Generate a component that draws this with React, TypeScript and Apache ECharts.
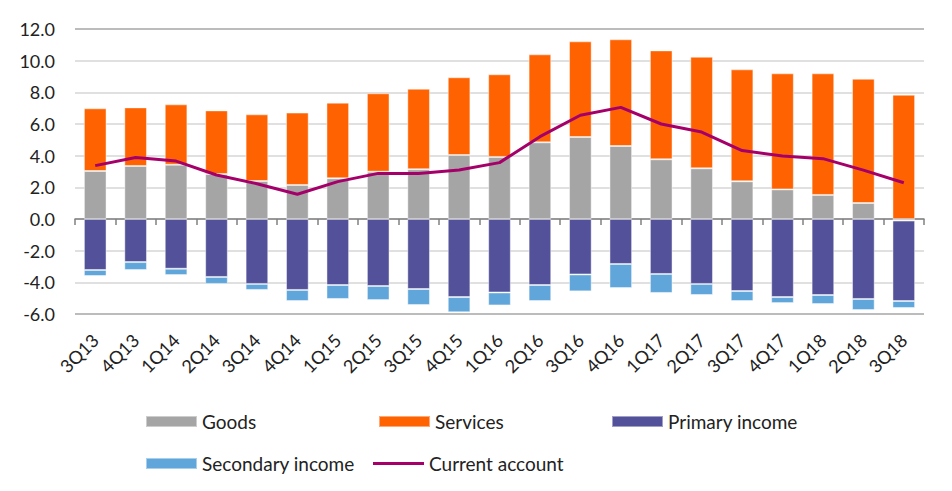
import { useEffect, useRef } from "react";
import * as echarts from "echarts";

const quarters = [
  "3Q13", "4Q13", "1Q14", "2Q14", "3Q14", "4Q14", "1Q15", "2Q15", "3Q15", "4Q15",
  "1Q16", "2Q16", "3Q16", "4Q16", "1Q17", "2Q17", "3Q17", "4Q17", "1Q18", "2Q18", "3Q18",
];

const goods = [
  3.03, 3.35, 3.43, 2.84, 2.4, 2.15, 2.57, 2.99, 3.14, 4.04,
  3.92, 4.84, 5.18, 4.61, 3.77, 3.2, 2.38, 1.87, 1.52, 1.01, -0.1,
];
const services = [
  3.96, 3.7, 3.81, 4.02, 4.21, 4.57, 4.78, 4.95, 5.09, 4.91,
  5.22, 5.56, 6.04, 6.74, 6.88, 7.05, 7.07, 7.33, 7.68, 7.85, 7.85,
];
const primaryIncome = [
  -3.22, -2.72, -3.14, -3.66, -4.1, -4.48, -4.17, -4.23, -4.42, -4.93,
  -4.64, -4.17, -3.5, -2.84, -3.47, -4.1, -4.55, -4.93, -4.8, -5.05, -5.08,
];
const secondaryIncome = [
  -0.38, -0.5, -0.4, -0.44, -0.38, -0.7, -0.88, -0.89, -1.01, -0.96,
  -0.82, -1.01, -1.07, -1.52, -1.2, -0.7, -0.63, -0.38, -0.57, -0.7, -0.44,
];
const currentAccount = [
  3.37, 3.89, 3.66, 2.78, 2.23, 1.56, 2.36, 2.88, 2.88, 3.09,
  3.56, 5.2, 6.55, 7.05, 6.0, 5.49, 4.32, 3.98, 3.81, 3.09, 2.29,
];

const yMin = -6;
const yMax = 12;
const yStep = 2;

const FONT = "Lato, 'Open Sans', sans-serif";
const GRAY = "#A5A5A5";
const ORANGE = "#FF6200";
const PURPLE = "#525199";
const BLUE = "#60A6DB";
const MAGENTA = "#A5006A";

// one legend per item so the columns line up like the original
const legendCells = [
  { name: "Goods", left: 140, top: 407, iconH: 11 },
  { name: "Services", left: 373, top: 407, iconH: 11 },
  { name: "Primary income", left: 606, top: 407, iconH: 11 },
  { name: "Secondary income", left: 140, top: 449, iconH: 11 },
  { name: "Current account", left: 368, top: 449, iconH: 3 },
];

export default function App() {
  const chartRef = useRef<HTMLDivElement>(null);

  useEffect(() => {
    document.body.style.margin = "0";
    if (!chartRef.current) return;
    const chart = echarts.init(chartRef.current, null, { renderer: "svg" });

    const barStyle = (color: string) => ({
      color,
      borderColor: "rgba(255,255,255,0.45)",
      borderWidth: 1,
    });

    const option: echarts.EChartsOption = {
      animation: false,
      textStyle: { fontFamily: FONT },
      grid: { left: 75, right: 28, top: 29, bottom: 177, containLabel: false },
      legend: legendCells.map((c) => ({
        data: [{ name: c.name, icon: "rect" }],
        left: c.left,
        top: c.top,
        itemWidth: 51,
        itemHeight: c.iconH,
        itemGap: 0,
        textStyle: { fontFamily: FONT, fontSize: 19, color: "#222" },
      })),
      xAxis: {
        type: "category",
        data: quarters,
        boundaryGap: true,
        axisLine: { onZero: true, lineStyle: { color: "#808080", width: 1.5 } },
        axisTick: { show: true, length: 6, lineStyle: { color: "#808080", width: 1.5 } },
        axisLabel: {
          rotate: 45,
          fontSize: 18,
          color: "#222",
          fontFamily: FONT,
          margin: 23,
        },
      },
      yAxis: {
        type: "value",
        min: yMin,
        max: yMax,
        interval: yStep,
        axisLine: { show: false },
        axisTick: { show: false },
        axisLabel: {
          formatter: (v: number) => v.toFixed(1),
          fontSize: 18,
          color: "#222",
          fontFamily: FONT,
          margin: 20,
        },
        splitLine: {
          lineStyle: {
            color: [
              "#A6A6A6", "#D6D6D6", "#D6D6D6", "#D6D6D6", "#D6D6D6",
              "#D6D6D6", "#D6D6D6", "#D6D6D6", "#D6D6D6", "#A6A6A6",
            ],
            width: 1.5,
          },
        },
      },
      series: [
        {
          name: "Goods",
          type: "bar",
          stack: "total",
          barWidth: "56%",
          data: goods,
          itemStyle: barStyle(GRAY),
        },
        {
          name: "Services",
          type: "bar",
          stack: "total",
          data: services,
          itemStyle: barStyle(ORANGE),
        },
        {
          name: "Primary income",
          type: "bar",
          stack: "total",
          data: primaryIncome,
          itemStyle: barStyle(PURPLE),
        },
        {
          name: "Secondary income",
          type: "bar",
          stack: "total",
          data: secondaryIncome,
          itemStyle: barStyle(BLUE),
        },
        {
          name: "Current account",
          type: "line",
          data: currentAccount,
          symbol: "none",
          lineStyle: { color: MAGENTA, width: 3 },
          itemStyle: { color: MAGENTA },
          z: 5,
        },
      ],
    };

    chart.setOption(option);
    return () => chart.dispose();
  }, []);

  return <div ref={chartRef} style={{ width: 952, height: 491 }} />;
}
